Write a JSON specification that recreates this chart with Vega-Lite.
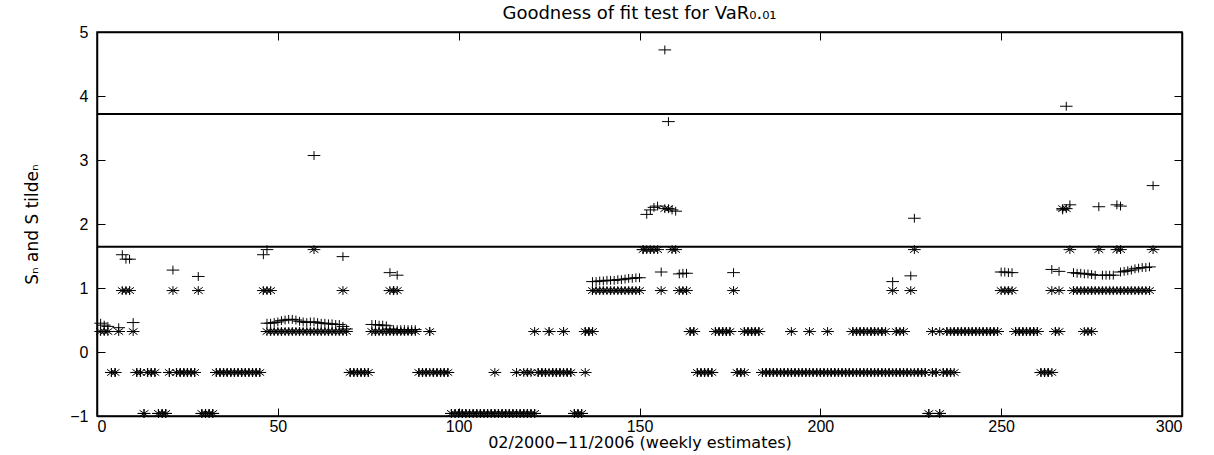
{
  "$schema": "https://vega.github.io/schema/vega-lite/v6.json",
  "width": 1085,
  "height": 384,
  "autosize": {"type": "none"},
  "padding": {"left": 97, "top": 32, "right": 32, "bottom": 39},
  "background": "white",
  "config": {
    "view": {"stroke": "black", "strokeWidth": 1.5},
    "font": "Liberation Sans",
    "axis": {"grid": false, "domainColor": "black", "tickColor": "black", "labelColor": "black", "titleColor": "black", "labelFont": "Liberation Sans", "titleFont": "DejaVu Sans", "labelFontSize": 16, "titleFontSize": 17, "titleFontWeight": "normal", "tickSize": -8, "labelPadding": 13, "domainWidth": 1.5}
  },
  "title": {"text": "Goodness of fit test for VaR₀.₀₁", "font": "DejaVu Sans", "fontSize": 18, "fontWeight": "normal", "color": "black", "anchor": "middle", "offset": 1},
  "resolve": {"axis": {"x": "independent", "y": "independent"}},
  "layer": [
    {
      "data": {"values": [
        {"x":1,"t":0.32,"s":0.45},{"x":2,"t":0.32,"s":0.42},{"x":3,"t":0.32,"s":0.4},{"x":4,"t":-0.32,"s":-0.32},{"x":5,"t":-0.32,"s":-0.32},
        {"x":6,"t":0.32,"s":0.38},{"x":7,"t":0.96,"s":1.52},{"x":8,"t":0.96,"s":1.45},{"x":9,"t":0.96,"s":1.45},{"x":10,"t":0.32,"s":0.46},
        {"x":11,"t":-0.32,"s":-0.32},{"x":12,"t":-0.32,"s":-0.32},{"x":13,"t":-0.96,"s":-0.96},{"x":14,"t":-0.32,"s":-0.32},{"x":15,"t":-0.32,"s":-0.32},
        {"x":16,"t":-0.32,"s":-0.32},{"x":17,"t":-0.96,"s":-0.96},{"x":18,"t":-0.96,"s":-0.96},{"x":19,"t":-0.96,"s":-0.96},{"x":20,"t":-0.32,"s":-0.32},
        {"x":21,"t":0.96,"s":1.28},{"x":22,"t":-0.32,"s":-0.32},{"x":23,"t":-0.32,"s":-0.32},{"x":24,"t":-0.32,"s":-0.32},{"x":25,"t":-0.32,"s":-0.32},
        {"x":26,"t":-0.32,"s":-0.32},{"x":27,"t":-0.32,"s":-0.32},{"x":28,"t":0.96,"s":1.18},{"x":29,"t":-0.96,"s":-0.96},{"x":30,"t":-0.96,"s":-0.96},
        {"x":31,"t":-0.96,"s":-0.96},{"x":32,"t":-0.96,"s":-0.96},{"x":33,"t":-0.32,"s":-0.32},{"x":34,"t":-0.32,"s":-0.32},{"x":35,"t":-0.32,"s":-0.32},
        {"x":36,"t":-0.32,"s":-0.32},{"x":37,"t":-0.32,"s":-0.32},{"x":38,"t":-0.32,"s":-0.32},{"x":39,"t":-0.32,"s":-0.32},{"x":40,"t":-0.32,"s":-0.32},
        {"x":41,"t":-0.32,"s":-0.32},{"x":42,"t":-0.32,"s":-0.32},{"x":43,"t":-0.32,"s":-0.32},{"x":44,"t":-0.32,"s":-0.32},{"x":45,"t":-0.32,"s":-0.32},
        {"x":46,"t":0.96,"s":1.52},{"x":47,"t":0.96,"s":1.6},{"x":47,"t":0.32,"s":0.45},{"x":48,"t":0.32,"s":0.45},{"x":48,"t":0.96},
        {"x":49,"t":0.32,"s":0.46},{"x":50,"t":0.32,"s":0.47},{"x":51,"t":0.32,"s":0.49},{"x":52,"t":0.32,"s":0.5},{"x":53,"t":0.32,"s":0.51},
        {"x":54,"t":0.32,"s":0.51},{"x":55,"t":0.32,"s":0.5},{"x":56,"t":0.32,"s":0.48},{"x":57,"t":0.32,"s":0.47},{"x":58,"t":0.32,"s":0.46},
        {"x":59,"t":0.32,"s":0.47},{"x":60,"t":1.6,"s":3.07},{"x":60,"t":0.32,"s":0.47},{"x":61,"t":0.32,"s":0.46},{"x":62,"t":0.32,"s":0.45},
        {"x":63,"t":0.32,"s":0.45},{"x":64,"t":0.32,"s":0.44},{"x":65,"t":0.32,"s":0.44},{"x":66,"t":0.32,"s":0.43},{"x":67,"t":0.32,"s":0.43},
        {"x":68,"t":0.96,"s":1.49},{"x":68,"t":0.32,"s":0.4},{"x":69,"t":0.32,"s":0.36},{"x":70,"t":-0.32,"s":-0.32},{"x":71,"t":-0.32,"s":-0.32},
        {"x":72,"t":-0.32,"s":-0.32},{"x":73,"t":-0.32,"s":-0.32},{"x":74,"t":-0.32,"s":-0.32},{"x":75,"t":-0.32,"s":-0.32},{"x":76,"t":0.32,"s":0.43},
        {"x":77,"t":0.32,"s":0.43},{"x":78,"t":0.32,"s":0.42},{"x":79,"t":0.32,"s":0.42},{"x":80,"t":0.32,"s":0.41},{"x":81,"t":0.96,"s":1.24},
        {"x":81,"t":0.32,"s":0.36},{"x":82,"t":0.96,"s":0.96},{"x":82,"t":0.32,"s":0.35},{"x":83,"t":0.96,"s":1.2},{"x":83,"t":0.32,"s":0.35},
        {"x":84,"t":0.32,"s":0.35},{"x":85,"t":0.32,"s":0.35},{"x":86,"t":0.32,"s":0.35},{"x":87,"t":0.32,"s":0.35},{"x":88,"t":0.32,"s":0.35},
        {"x":89,"t":-0.32,"s":-0.32},{"x":90,"t":-0.32,"s":-0.32},{"x":91,"t":-0.32,"s":-0.32},{"x":92,"t":0.32,"s":0.32},{"x":92,"t":-0.32},
        {"x":93,"t":-0.32,"s":-0.32},{"x":94,"t":-0.32,"s":-0.32},{"x":95,"t":-0.32,"s":-0.32},{"x":96,"t":-0.32,"s":-0.32},{"x":97,"t":-0.32,"s":-0.32},
        {"x":98,"t":-0.96,"s":-0.96},{"x":99,"t":-0.96,"s":-0.96},{"x":100,"t":-0.96,"s":-0.96},{"x":101,"t":-0.96,"s":-0.96},{"x":102,"t":-0.96,"s":-0.96},
        {"x":103,"t":-0.96,"s":-0.96},{"x":104,"t":-0.96,"s":-0.96},{"x":105,"t":-0.96,"s":-0.96},{"x":106,"t":-0.96,"s":-0.96},{"x":107,"t":-0.96,"s":-0.96},
        {"x":108,"t":-0.96,"s":-0.96},{"x":109,"t":-0.96,"s":-0.96},{"x":110,"t":-0.96,"s":-0.96},{"x":110,"t":-0.32},{"x":111,"t":-0.96,"s":-0.96},
        {"x":112,"t":-0.96,"s":-0.96},{"x":113,"t":-0.96,"s":-0.96},{"x":114,"t":-0.96,"s":-0.96},{"x":115,"t":-0.96,"s":-0.96},{"x":116,"t":-0.96,"s":-0.96},
        {"x":116,"t":-0.32},{"x":117,"t":-0.96,"s":-0.96},{"x":118,"t":-0.96,"s":-0.96},{"x":118,"t":-0.32},{"x":119,"t":-0.96,"s":-0.96},
        {"x":119,"t":-0.32},{"x":120,"t":-0.96,"s":-0.96},{"x":120,"t":-0.32},{"x":121,"t":-0.96,"s":-0.96},{"x":121,"t":0.32},
        {"x":122,"t":-0.32,"s":-0.32},{"x":123,"t":-0.32,"s":-0.32},{"x":124,"t":-0.32,"s":-0.32},{"x":125,"t":0.32,"s":0.32},{"x":125,"t":-0.32},
        {"x":126,"t":-0.32,"s":-0.32},{"x":127,"t":-0.32,"s":-0.32},{"x":128,"t":-0.32,"s":-0.32},{"x":129,"t":0.32,"s":0.32},{"x":129,"t":-0.32},
        {"x":130,"t":-0.32,"s":-0.32},{"x":131,"t":-0.32,"s":-0.32},{"x":132,"t":-0.96,"s":-0.96},{"x":133,"t":-0.96,"s":-0.96},{"x":134,"t":-0.96,"s":-0.96},
        {"x":135,"t":0.32,"s":0.32},{"x":135,"t":-0.32},{"x":136,"t":0.32,"s":0.32},{"x":137,"t":0.96,"s":1.1},{"x":137,"t":0.32},
        {"x":138,"t":0.96,"s":1.1},{"x":139,"t":0.96,"s":1.11},{"x":140,"t":0.96,"s":1.11},{"x":141,"t":0.96,"s":1.12},{"x":142,"t":0.96,"s":1.12},
        {"x":143,"t":0.96,"s":1.12},{"x":144,"t":0.96,"s":1.13},{"x":145,"t":0.96,"s":1.13},{"x":146,"t":0.96,"s":1.14},{"x":147,"t":0.96,"s":1.15},
        {"x":148,"t":0.96,"s":1.15},{"x":149,"t":0.96,"s":1.16},{"x":150,"t":0.96,"s":1.16},{"x":151,"t":1.6,"s":1.6},{"x":152,"t":1.6,"s":2.15},
        {"x":153,"t":1.6,"s":2.22},{"x":154,"t":1.6,"s":2.26},{"x":155,"t":1.6,"s":2.28},{"x":156,"t":0.96,"s":1.25},{"x":157,"t":2.24,"s":4.72},
        {"x":158,"t":2.24,"s":3.6},{"x":159,"t":1.6,"s":2.22},{"x":160,"t":1.6,"s":2.2},{"x":161,"t":0.96,"s":1.22},{"x":162,"t":0.96,"s":1.23},
        {"x":163,"t":0.96,"s":1.23},{"x":164,"t":0.32,"s":0.32},{"x":165,"t":0.32,"s":0.32},{"x":166,"t":-0.32,"s":-0.32},{"x":167,"t":-0.32,"s":-0.32},
        {"x":168,"t":-0.32,"s":-0.32},{"x":169,"t":-0.32,"s":-0.32},{"x":170,"t":-0.32,"s":-0.32},{"x":171,"t":0.32,"s":0.32},{"x":172,"t":0.32,"s":0.32},
        {"x":173,"t":0.32,"s":0.32},{"x":174,"t":0.32,"s":0.32},{"x":175,"t":0.32,"s":0.32},{"x":176,"t":0.96,"s":1.24},{"x":177,"t":-0.32,"s":-0.32},
        {"x":178,"t":-0.32,"s":-0.32},{"x":179,"t":0.32,"s":0.32},{"x":179,"t":-0.32},{"x":180,"t":0.32,"s":0.32},{"x":181,"t":0.32,"s":0.32},
        {"x":182,"t":0.32,"s":0.32},{"x":183,"t":0.32,"s":0.32},{"x":184,"t":-0.32,"s":-0.32},{"x":185,"t":-0.32,"s":-0.32},{"x":186,"t":-0.32,"s":-0.32},
        {"x":187,"t":-0.32,"s":-0.32},{"x":188,"t":-0.32,"s":-0.32},{"x":189,"t":-0.32,"s":-0.32},{"x":190,"t":-0.32,"s":-0.32},{"x":191,"t":-0.32,"s":-0.32},
        {"x":192,"t":-0.32,"s":-0.32},{"x":192,"t":0.32},{"x":193,"t":-0.32,"s":-0.32},{"x":194,"t":-0.32,"s":-0.32},{"x":195,"t":-0.32,"s":-0.32},
        {"x":196,"t":-0.32,"s":-0.32},{"x":197,"t":-0.32,"s":-0.32},{"x":197,"t":0.32},{"x":198,"t":-0.32,"s":-0.32},{"x":199,"t":-0.32,"s":-0.32},
        {"x":200,"t":-0.32,"s":-0.32},{"x":201,"t":-0.32,"s":-0.32},{"x":202,"t":-0.32,"s":-0.32},{"x":202,"t":0.32},{"x":203,"t":-0.32,"s":-0.32},
        {"x":204,"t":-0.32,"s":-0.32},{"x":205,"t":-0.32,"s":-0.32},{"x":206,"t":-0.32,"s":-0.32},{"x":207,"t":-0.32,"s":-0.32},{"x":208,"t":-0.32,"s":-0.32},
        {"x":209,"t":-0.32,"s":-0.32},{"x":209,"t":0.32,"s":0.32},{"x":210,"t":-0.32,"s":-0.32},{"x":210,"t":0.32},{"x":211,"t":-0.32,"s":-0.32},
        {"x":211,"t":0.32,"s":0.32},{"x":212,"t":-0.32,"s":-0.32},{"x":212,"t":0.32,"s":0.32},{"x":213,"t":-0.32,"s":-0.32},{"x":213,"t":0.32},
        {"x":214,"t":-0.32,"s":-0.32},{"x":214,"t":0.32,"s":0.32},{"x":215,"t":-0.32,"s":-0.32},{"x":215,"t":0.32,"s":0.32},{"x":216,"t":-0.32,"s":-0.32},
        {"x":216,"t":0.32},{"x":217,"t":-0.32,"s":-0.32},{"x":217,"t":0.32,"s":0.32},{"x":218,"t":-0.32,"s":-0.32},{"x":218,"t":0.32},
        {"x":219,"t":-0.32,"s":-0.32},{"x":220,"t":0.96,"s":1.1},{"x":220,"t":-0.32},{"x":221,"t":-0.32,"s":-0.32},{"x":221,"t":0.32,"s":0.32},
        {"x":222,"t":-0.32,"s":-0.32},{"x":222,"t":0.32},{"x":223,"t":-0.32,"s":-0.32},{"x":223,"t":0.32,"s":0.32},{"x":224,"t":-0.32,"s":-0.32},
        {"x":225,"t":0.96,"s":1.19},{"x":225,"t":-0.32},{"x":226,"t":1.6,"s":2.09},{"x":226,"t":-0.32},{"x":227,"t":-0.32,"s":-0.32},
        {"x":228,"t":-0.32,"s":-0.32},{"x":229,"t":-0.32,"s":-0.32},{"x":230,"t":-0.96,"s":-0.96},{"x":231,"t":-0.32,"s":-0.32},{"x":231,"t":0.32,"s":0.32},
        {"x":232,"t":-0.32,"s":-0.32},{"x":233,"t":-0.96,"s":-0.96},{"x":233,"t":0.32},{"x":234,"t":-0.32,"s":-0.32},{"x":235,"t":-0.32,"s":-0.32},
        {"x":235,"t":0.32,"s":0.32},{"x":236,"t":-0.32,"s":-0.32},{"x":236,"t":0.32},{"x":237,"t":0.32,"s":0.32},{"x":237,"t":-0.32},
        {"x":238,"t":0.32,"s":0.32},{"x":239,"t":0.32,"s":0.32},{"x":240,"t":0.32,"s":0.32},{"x":241,"t":0.32,"s":0.32},{"x":242,"t":0.32,"s":0.32},
        {"x":243,"t":0.32,"s":0.32},{"x":244,"t":0.32,"s":0.32},{"x":245,"t":0.32,"s":0.32},{"x":246,"t":0.32,"s":0.32},{"x":247,"t":0.32,"s":0.32},
        {"x":248,"t":0.32,"s":0.32},{"x":249,"t":0.32,"s":0.32},{"x":250,"t":0.96,"s":1.25},{"x":251,"t":0.96,"s":1.25},{"x":252,"t":0.96,"s":1.24},
        {"x":253,"t":0.96,"s":1.24},{"x":254,"t":0.32,"s":0.32},{"x":255,"t":0.32,"s":0.32},{"x":256,"t":0.32,"s":0.32},{"x":257,"t":0.32,"s":0.32},
        {"x":258,"t":0.32,"s":0.32},{"x":259,"t":0.32,"s":0.32},{"x":260,"t":0.32,"s":0.32},{"x":261,"t":-0.32,"s":-0.32},{"x":262,"t":-0.32,"s":-0.32},
        {"x":263,"t":-0.32,"s":-0.32},{"x":264,"t":0.96,"s":1.29},{"x":264,"t":-0.32},{"x":265,"t":0.32,"s":0.32},{"x":266,"t":0.96,"s":1.26},
        {"x":266,"t":0.32},{"x":267,"t":2.24,"s":2.22},{"x":268,"t":2.24,"s":3.84},{"x":269,"t":1.6,"s":2.3},{"x":270,"t":0.96,"s":1.24},
        {"x":271,"t":0.96,"s":1.23},{"x":272,"t":0.96,"s":1.23},{"x":273,"t":0.96,"s":1.22},{"x":273,"t":0.32},{"x":274,"t":0.96,"s":1.22},
        {"x":274,"t":0.32},{"x":275,"t":0.96,"s":1.21},{"x":275,"t":0.32},{"x":276,"t":0.96,"s":1.2},{"x":277,"t":1.6,"s":2.27},
        {"x":277,"t":0.96},{"x":278,"t":0.96,"s":1.2},{"x":279,"t":0.96,"s":1.2},{"x":280,"t":0.96,"s":1.2},{"x":281,"t":0.96,"s":1.2},
        {"x":282,"t":1.6,"s":2.3},{"x":282,"t":0.96},{"x":283,"t":1.6,"s":2.28},{"x":283,"t":0.96,"s":1.25},{"x":284,"t":0.96,"s":1.26},
        {"x":285,"t":0.96,"s":1.27},{"x":286,"t":0.96,"s":1.28},{"x":287,"t":0.96,"s":1.3},{"x":288,"t":0.96,"s":1.31},{"x":289,"t":0.96,"s":1.32},
        {"x":290,"t":0.96,"s":1.32},{"x":291,"t":0.96,"s":1.33},{"x":292,"t":1.6,"s":2.6}
      ]},
      "transform": [
        {"fold": ["t", "s"], "as": ["series", "v"]},
        {"filter": "isValid(datum.v)"}
      ],
      "mark": {"type": "point", "filled": false, "color": "black", "strokeWidth": 1, "opacity": 1, "size": 160},
      "encoding": {
        "x": {"field": "x", "type": "quantitative", "scale": {"domain": [0, 300], "nice": false, "zero": false},
          "axis": {"orient": "bottom", "values": [0, 50, 100, 150, 200, 250, 300], "title": "02/2000−11/2006 (weekly estimates)", "titlePadding": 0, "labelPadding": 10, "titleFontSize": 16}},
        "y": {"field": "v", "type": "quantitative", "scale": {"domain": [-1, 5], "nice": false, "zero": false},
          "axis": {"orient": "left", "values": [-1, 0, 1, 2, 3, 4, 5], "title": "Sₙ and S tildeₙ", "titlePadding": 28, "labelPadding": 17}},
        "shape": {"field": "series", "type": "nominal", "legend": null,
          "scale": {"domain": ["s", "t"], "range": ["M-1,0L1,0M0,-0.7L0,0.7", "M-1,0L1,0M0,-0.7L0,0.7M-0.7,-0.5L0.7,0.5M-0.7,0.5L0.7,-0.5"]}}
      }
    },
    {
      "data": {"values": [{"h": 3.719}, {"h": 1.645}]},
      "mark": {"type": "rule", "color": "black", "strokeWidth": 2},
      "encoding": {
        "x": {"datum": 0, "type": "quantitative", "axis": {"orient": "top", "labels": false, "title": null, "labelPadding": 0, "values": [0, 50, 100, 150, 200, 250, 300]}},
        "x2": {"datum": 300},
        "y": {"field": "h", "type": "quantitative", "axis": {"orient": "right", "labels": false, "title": null, "values": [-1, 0, 1, 2, 3, 4, 5]}}
      }
    }
  ]
}
